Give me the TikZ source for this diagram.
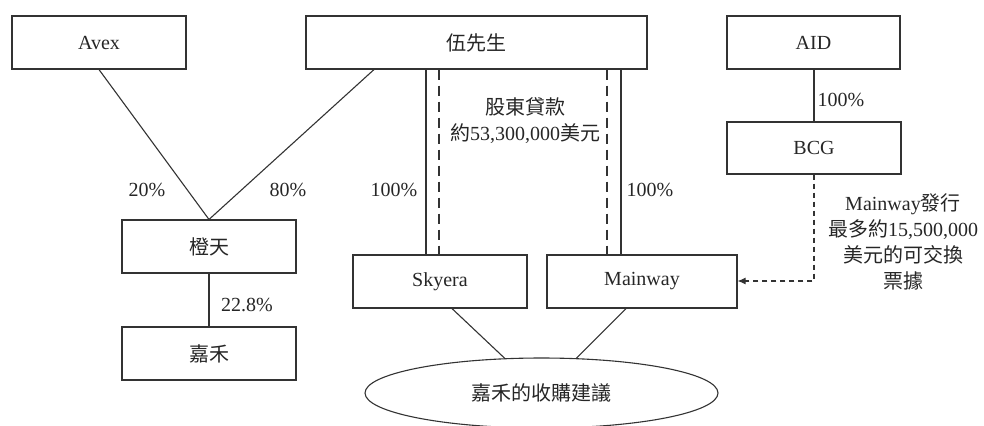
\documentclass[tikz,border=0pt]{standalone}
\usepackage{fontspec}
\setmainfont{Liberation Serif}
\newfontfamily\cjk{Noto Sans CJK TC}
\newcommand\zh[1]{{\cjk #1}}
\usetikzlibrary{arrows.meta,shapes.geometric}
\begin{document}
\begin{tikzpicture}[x=0.5pt,y=-0.5pt,
  every node/.style={font=\fontsize{10}{13}\selectfont, text=black!85},
  box/.style={draw=black!80, line width=0.55pt, minimum height=26.5pt, inner sep=0pt},
  conn/.style={draw=black!80, line width=0.55pt},
  loan/.style={draw=black!80, line width=0.55pt, dash pattern=on 5pt off 3pt},
  cb/.style={draw=black!80, line width=0.55pt, dash pattern=on 2.5pt off 2pt},
  lbl/.style={inner sep=0pt, align=center}]
\useasboundingbox (0,0) rectangle (984,425);
\node[box, minimum width=87pt] (avex) at (99,42.5) {Avex};
\node[box, minimum width=170.5pt] (wu) at (476.5,42.5) {\zh{伍先生}};
\node[box, minimum width=86.5pt] (aid) at (813.5,42.5) {AID};
\node[box, minimum width=87pt, minimum height=26pt] (bcg) at (814,148) {BCG};
\node[box, minimum width=87pt] (ct) at (209,246.5) {\zh{橙天}};
\node[box, minimum width=87pt] (jh) at (209,353.5) {\zh{嘉禾}};
\node[box, minimum width=87pt] (sk) at (440,281.5) {Skyera};
\node[box, minimum width=95pt] (mw) at (642,281.5) {Mainway};
\node[ellipse, draw=black!80, line width=0.55pt, minimum width=176.5pt, minimum height=35pt, inner sep=0pt] (ell) at (541.5,393) {\zh{嘉禾的收購建議}};
% helper x positions
\coordinate (xa) at (99,0);
\coordinate (xw) at (374,0);
\coordinate (x1) at (426,0);
\coordinate (x2) at (439,0);
\coordinate (x3) at (607,0);
\coordinate (x4) at (621,0);
\coordinate (xs) at (452,0);
\coordinate (xm) at (626,0);
\coordinate (xb) at (814,0);
\coordinate (yb) at (0,281);
% connectors
\draw[conn] (avex.south -| xa) -- (ct.north);
\draw[conn] (wu.south -| xw) -- (ct.north);
\draw[conn] (ct) -- (jh);
\draw[conn] (wu.south -| x1) -- (sk.north -| x1);
\draw[loan] (wu.south -| x2) -- (sk.north -| x2);
\draw[loan] (wu.south -| x3) -- (mw.north -| x3);
\draw[conn] (wu.south -| x4) -- (mw.north -| x4);
\draw[conn] (aid.south -| bcg.north) -- (bcg.north);
\draw[conn] (sk.south -| xs) -- (ell);
\draw[conn] (mw.south -| xm) -- (ell);
\draw[cb, -{Latex[length=4pt,width=3.5pt]}] (bcg.south -| xb) |- (mw.east |- yb);
% labels
\node[lbl] (l20) at (147,190) {20\%};
\node[lbl] (l80) at (288,190) {80\%};
\node[lbl] (l228) at (247,305) {22.8\%};
\node[lbl] (l100a) at (394,190) {100\%};
\node[lbl] (l100b) at (650,190) {100\%};
\node[lbl] (l100c) at (841,100) {100\%};
\node[lbl] (loanlbl) at (525,121) {\zh{股東貸款}\\\zh{約}53,300,000\zh{美元}};
\node[lbl] (cblbl) at (903,242) {Mainway\zh{發行}\\\zh{最多約}15,500,000\\\zh{美元的可交換}\\\zh{票據}};
\end{tikzpicture}
\end{document}
